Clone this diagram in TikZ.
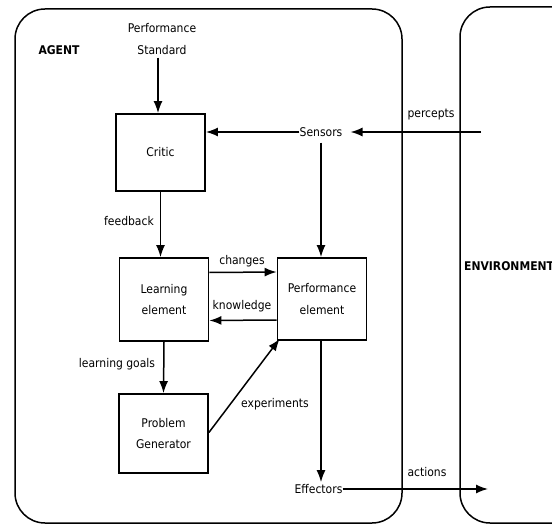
\documentclass[tikz,border=0pt]{standalone}
\usepackage{fontspec}
\setmainfont{DejaVu Sans Condensed}
\usetikzlibrary{arrows.meta}
\tikzset{
  box/.style = {draw, line width=1.8pt, minimum width=89pt,
                minimum height=#1, align=center, inner sep=0pt},
  box/.default = 80pt,
  lbl/.style = {inner sep=0pt, align=center},
  arr/.style = {-{Latex[length=12pt,width=9pt]}, line width=1.5pt}
}

\begin{document}
\begin{tikzpicture}[x=1pt, y=-1pt, font=\fontsize{12}{21.5}\selectfont]
	\useasboundingbox (0,0) rectangle (552,524);
	\clip (0,0) rectangle (552,524);

	% Agent / Environment frames
	\draw[line width=1.5pt, rounded corners=30pt] (15,9) rectangle (402,523);
	\draw[line width=1.5pt, rounded corners=30pt] (460,7) rectangle (620,523);
	\node[lbl] (agent) at (59,50) {\bfseries AGENT};
	\node[lbl, anchor=west] (env) at (464,266) {\bfseries ENVIRONMENT};

	% Boxes
	\node[box=77pt] (critic) at (160.5,152.5) {Critic};
	\node[box=83pt] (learn) at (164,299.5) {Learning\\element};
	\node[box=82pt] (perf) at (322,299) {Performance\\element};
	\node[box=79pt] (gen) at (163.5,433.5) {Problem\\Generator};

	% Texts
	\node[lbl] (std) at (162,39) {Performance\\Standard};
	\node[lbl] (sens) at (321,132) {Sensors};
	\node[lbl] (eff) at (318.5,489) {Effectors};
	\coordinate (perc) at (481,132);
	\coordinate (act) at (488,489);

	% Labels
	\node[lbl] (fb) at (129,221) {feedback};
	\node[lbl] (chg) at (242,261) {changes};
	\node[lbl] (knw) at (242,306) {knowledge};
	\node[lbl] (goals) at (117,364) {learning goals};
	\node[lbl] (exper) at (275,404) {experiments};
	\node[lbl] (pl) at (431,115) {percepts};
	\node[lbl] (al) at (427,472) {actions};

	% Arrows
	\draw[arr, shorten <=3pt] ([xshift=-4pt]std.south) -- ([xshift=-2.5pt]critic.north);
	\draw[arr] (sens.west) -- (sens.west -| critic.east);
	\draw[arr, shorten >=8pt] (perc) -- (sens.east);
	\draw[arr, shorten <=6pt] (sens.south) -- (sens.south |- perf.north);
	\draw[arr] (critic.south) -- (critic.south |- learn.north);
	\draw[arr] ([yshift=27pt]learn.east) -- ([yshift=27pt]perf.west);
	\draw[arr] ([yshift=-21pt]perf.west) -- ([yshift=-21pt]learn.east);
	\draw[arr] (learn.south) -- (gen.north);
	\draw[arr] ([yshift=1pt]gen.east) -- ([xshift=3pt,yshift=2pt]perf.south west);
	\draw[arr, shorten >=2pt] ([xshift=-1pt]perf.south) -- ([xshift=-1pt]perf.south |- eff.north);
	\draw[arr] (eff.east) -- (act);

\end{tikzpicture}
\end{document}
